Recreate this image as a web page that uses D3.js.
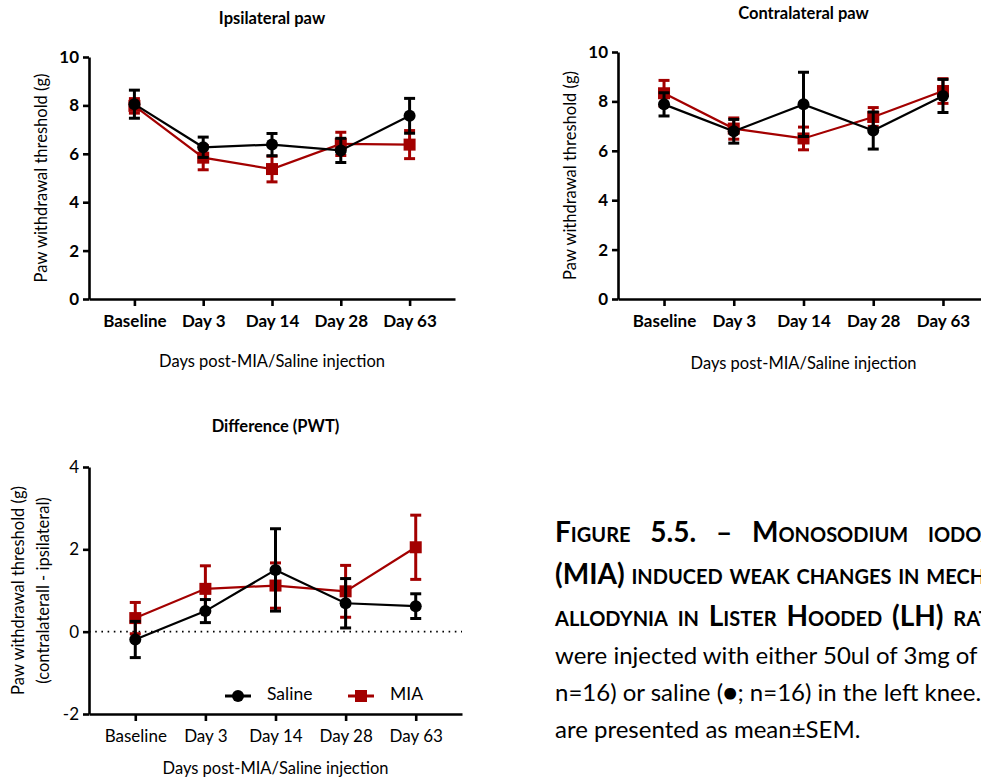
<!DOCTYPE html>
<html>
<head>
<meta charset="utf-8">
<script src="https://cdn.jsdelivr.net/npm/d3@7"></script>
<style>
  body { margin: 0; background: #fff; }
  svg { display: block; font-family: Lato, "Open Sans", sans-serif; }
</style>
</head>
<body>
<svg id="fig" width="981" height="780"></svg>
<script>
const categories = ["Baseline", "Day 3", "Day 14", "Day 28", "Day 63"];

// Ipsilateral paw (g)
const ipsiSalineMean = [8.05, 6.27, 6.38, 6.14, 7.57];
const ipsiSalineSem  = [0.58, 0.42, 0.46, 0.50, 0.72];
const ipsiMiaMean    = [7.98, 5.84, 5.37, 6.41, 6.38];
const ipsiMiaSem     = [0.30, 0.50, 0.53, 0.48, 0.58];

// Contralateral paw (g)
const contraSalineMean = [7.88, 6.79, 7.88, 6.82, 8.22];
const contraSalineSem  = [0.47, 0.48, 1.30, 0.75, 0.67];
const contraMiaMean    = [8.33, 6.90, 6.50, 7.37, 8.42];
const contraMiaSem     = [0.52, 0.43, 0.46, 0.38, 0.50];

// Difference (contralateral - ipsilateral)
const diffSalineMean = [-0.19, 0.50, 1.50, 0.69, 0.62];
const diffSalineSem  = [0.44, 0.28, 1.00, 0.60, 0.30];
const diffMiaMean    = [0.33, 1.04, 1.12, 0.98, 2.05];
const diffMiaSem     = [0.38, 0.56, 0.55, 0.63, 0.78];

const ipsiTicks = [0, 2, 4, 6, 8, 10];
const contraTicks = [0, 2, 4, 6, 8, 10];
const diffTicks = [-2, 0, 2, 4];

const red = "#a30000";
const black = "#000";

const svg = d3.select("#fig");

function series(means, sems) {
    return categories.map((c, i) => ({cat: c, v: means[i], e: sems[i]}));
}

function drawPanel(cfg) {
    const g = svg.append("g");
    const x = d3.scalePoint()
        .domain(categories)
        .range([cfg.left, cfg.right])
        .padding(0.66);
    const y = d3.scaleLinear()
        .domain(cfg.domain)
        .range([cfg.bottom, cfg.top]);

    // axes
    const yAxis = g.append("g")
        .attr("transform", `translate(${cfg.left},0)`)
        .call(d3.axisLeft(y).tickValues(cfg.ticks).tickFormat(d => String(d))
            .tickSize(6).tickSizeOuter(0).tickPadding(4));
    const xAxis = g.append("g")
        .attr("transform", `translate(0,${cfg.bottom})`)
        .call(d3.axisBottom(x).tickSize(7).tickSizeOuter(0).tickPadding(9));

    [xAxis, yAxis].forEach(a => {
        a.select(".domain").attr("stroke", "#000").attr("stroke-width", 2.6);
        a.selectAll(".tick line").attr("stroke", "#000").attr("stroke-width", 2.6);
        a.selectAll("text")
            .attr("fill", "#000")
            .style("font-family", "Lato, sans-serif")
            .style("font-size", "17px")
            .style("font-weight", cfg.boldTicks ? "bold" : "normal");
    });

    // dotted zero line
    if (cfg.zeroLine) {
        g.append("line")
            .attr("x1", cfg.left).attr("x2", cfg.right)
            .attr("y1", y(0)).attr("y2", y(0))
            .attr("stroke", "#000")
            .attr("stroke-width", 1.6)
            .attr("stroke-dasharray", "1.6,4.6");
    }

    // MIA first, saline on top
    const groups = [
        {data: series(cfg.miaMean, cfg.miaSem), color: red, shape: "square"},
        {data: series(cfg.salMean, cfg.salSem), color: black, shape: "circle"}
    ];

    groups.forEach(s => {
        const line = d3.line().x(d => x(d.cat)).y(d => y(d.v));
        g.append("path")
            .datum(s.data)
            .attr("fill", "none")
            .attr("stroke", s.color)
            .attr("stroke-width", 2.2)
            .attr("d", line);

        const eb = g.selectAll(null).data(s.data).enter().append("g");
        eb.append("line")
            .attr("x1", d => x(d.cat)).attr("x2", d => x(d.cat))
            .attr("y1", d => y(d.v - d.e)).attr("y2", d => y(d.v + d.e))
            .attr("stroke", s.color).attr("stroke-width", 3);
        [-1, 1].forEach(k => {
            eb.append("line")
                .attr("x1", d => x(d.cat) - 5.5).attr("x2", d => x(d.cat) + 5.5)
                .attr("y1", d => y(d.v + k * d.e)).attr("y2", d => y(d.v + k * d.e))
                .attr("stroke", s.color).attr("stroke-width", 3);
        });

        if (s.shape === "circle") {
            g.selectAll(null).data(s.data).enter().append("circle")
                .attr("cx", d => x(d.cat)).attr("cy", d => y(d.v))
                .attr("r", 6).attr("fill", s.color);
        } else {
            g.selectAll(null).data(s.data).enter().append("rect")
                .attr("x", d => x(d.cat) - 6).attr("y", d => y(d.v) - 6)
                .attr("width", 12).attr("height", 12).attr("fill", s.color);
        }
    });

    // titles
    const cx = (x(categories[0]) + x(categories[4])) / 2;
    g.append("text")
        .attr("x", cx).attr("y", cfg.titleY)
        .attr("text-anchor", "middle")
        .attr("dominant-baseline", "middle")
        .style("font-size", "16.5px").style("font-weight", "bold")
        .text(cfg.title);
    g.append("text")
        .attr("x", cx).attr("y", cfg.xTitleY)
        .attr("text-anchor", "middle")
        .attr("dominant-baseline", "middle")
        .style("font-size", "16.5px")
        .text("Days post-MIA/Saline injection");

    const yMid = (cfg.top + cfg.bottom) / 2;
    cfg.yLabels.forEach((lab, i) => {
        g.append("text")
            .attr("transform", `translate(${cfg.yLabelX[i]},${yMid}) rotate(-90)`)
            .attr("text-anchor", "middle")
            .attr("dominant-baseline", "middle")
            .style("font-size", "16.5px")
            .text(lab);
    });

    return {x, y, g};
}

drawPanel({
    left: 89, right: 455, top: 57, bottom: 299,
    domain: [0, 10], ticks: ipsiTicks, boldTicks: true,
    salMean: ipsiSalineMean, salSem: ipsiSalineSem,
    miaMean: ipsiMiaMean, miaSem: ipsiMiaSem,
    title: "Ipsilateral paw", titleY: 20, xTitleY: 363,
    yLabels: ["Paw withdrawal threshold (g)"], yLabelX: [43]
});

drawPanel({
    left: 618, right: 989, top: 52, bottom: 299,
    domain: [0, 10], ticks: contraTicks, boldTicks: true,
    salMean: contraSalineMean, salSem: contraSalineSem,
    miaMean: contraMiaMean, miaSem: contraMiaSem,
    title: "Contralateral paw", titleY: 15, xTitleY: 365,
    yLabels: ["Paw withdrawal threshold (g)"], yLabelX: [572]
});

const diff = drawPanel({
    left: 89, right: 462, top: 467, bottom: 714,
    domain: [-2, 4], ticks: diffTicks, boldTicks: false, zeroLine: true,
    salMean: diffSalineMean, salSem: diffSalineSem,
    miaMean: diffMiaMean, miaSem: diffMiaSem,
    title: "Difference (PWT)", titleY: 428, xTitleY: 770,
    yLabels: ["Paw withdrawal threshold (g)", "(contralaterall - ipsilateral)"],
    yLabelX: [20, 45]
});

// legend inside the difference panel
const legend = [
    {name: "Saline", color: black, shape: "circle", x: 238},
    {name: "MIA", color: red, shape: "square", x: 361}
];
const ly = 696;
legend.forEach(l => {
    diff.g.append("line")
        .attr("x1", l.x - 13).attr("x2", l.x + 13)
        .attr("y1", ly).attr("y2", ly)
        .attr("stroke", l.color).attr("stroke-width", 3);
    if (l.shape === "circle") {
        diff.g.append("circle").attr("cx", l.x).attr("cy", ly).attr("r", 6).attr("fill", l.color);
    } else {
        diff.g.append("rect").attr("x", l.x - 6).attr("y", ly - 6)
            .attr("width", 12).attr("height", 12).attr("fill", l.color);
    }
    diff.g.append("text")
        .attr("x", l.x + 29).attr("y", ly)
        .attr("dominant-baseline", "middle")
        .style("font-size", "17.5px")
        .text(l.name);
});

// caption, running past the right edge as in the source page
const captionHead = [
    {t: "Figure 5.5. – Monosodium iodoacetate", y: 542, ws: 13},
    {t: "(MIA) induced weak changes in mechanical", y: 584, ws: 0},
    {t: "allodynia in Lister Hooded (LH) rats.", y: 626, ws: 3}
];
const captionBody = [
    {t: "were injected with either 50ul of 3mg of MIA", y: 664},
    {t: "n=16) or saline (●; n=16) in the left knee.", y: 701},
    {t: "are presented as mean±SEM.", y: 738}
];
const cap = svg.append("g").attr("transform", "translate(555,0)");
cap.selectAll(null).data(captionHead).enter().append("text")
    .attr("x", 0).attr("y", d => d.y)
    .style("font-size", "28px")
    .style("font-weight", "bold")
    .style("font-variant", "small-caps")
    .style("word-spacing", d => d.ws + "px")
    .text(d => d.t);
cap.selectAll(null).data(captionBody).enter().append("text")
    .attr("x", 0).attr("y", d => d.y)
    .style("font-size", "24px")
    .text(d => d.t);
</script>
</body>
</html>
